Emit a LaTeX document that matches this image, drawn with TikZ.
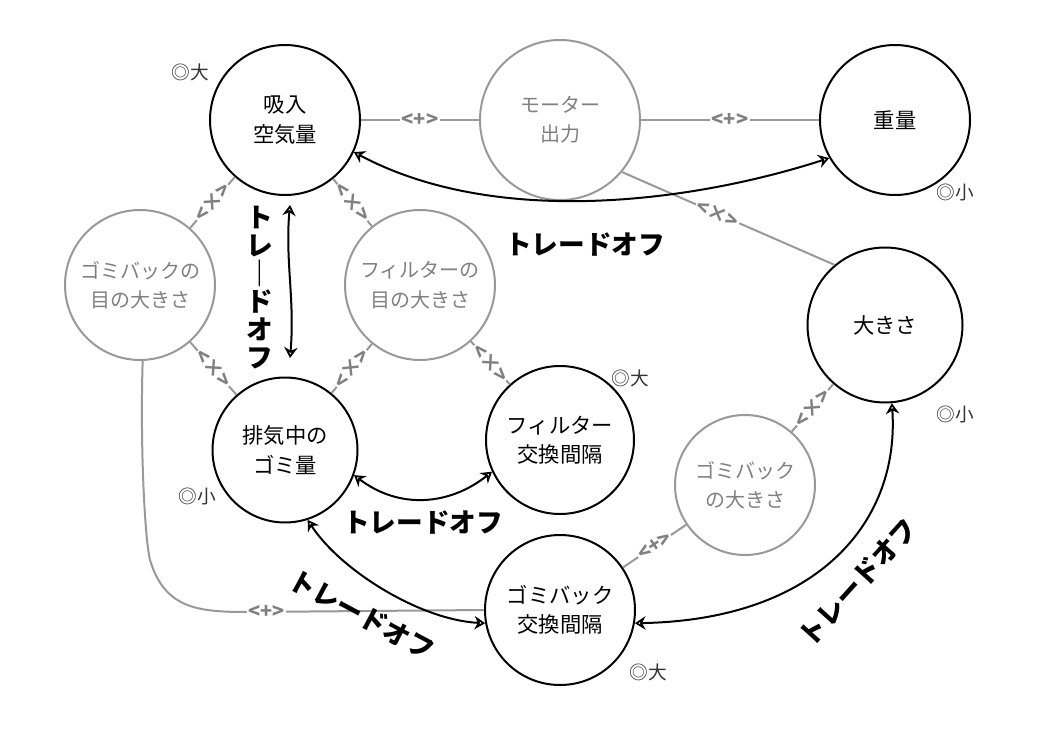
\documentclass[tikz,border=0pt]{standalone}
\usepackage{fontspec}
\setmainfont{Noto Sans CJK JP}
\usetikzlibrary{arrows.meta}
\begin{document}
\begin{tikzpicture}[x=0.75pt,y=-0.75pt,
  blk/.style={circle,draw=black,line width=1.5pt,minimum size=#1*0.75pt,align=center,font=\fontsize{16}{22}\selectfont,inner sep=0pt},
  gry/.style={circle,draw=gray!80,text=gray,line width=1.5pt,minimum size=#1*0.75pt,align=center,font=\fontsize{15}{22}\selectfont,inner sep=0pt},
  gline/.style={draw=gray!80,line width=1.5pt},
  mk/.style={sloped,fill=white,text=gray,inner sep=1pt,font=\fontsize{15}{15}\selectfont\bfseries},
  tr/.style={draw=black,line width=1.5pt,{Stealth[open,length=8pt,width=10pt]}-{Stealth[open,length=8pt,width=10pt]}},
  tl/.style={font=\fontsize{20}{22}\selectfont\bfseries},
  note/.style={font=\fontsize{14}{14}\selectfont,text=black!80}]
\useasboundingbox (0,0) rectangle (1040,732);
\node[blk=150] (ki) at (285,120) {吸入\\空気量};
\node[gry=160] (mo) at (560,120) {モーター\\出力};
\node[blk=150] (ju) at (895,120) {重量};
\node[gry=150] (gm) at (140,285) {ゴミバックの\\目の大きさ};
\node[gry=150] (fm) at (420,285) {フィルターの\\目の大きさ};
\node[blk=155] (ok) at (885,325) {大きさ};
\node[blk=145] (hk) at (285,450) {排気中の\\ゴミ量};
\node[blk=148] (fk) at (560,440) {フィルター\\交換間隔};
\node[gry=140] (go) at (745,485) {ゴミバック\\の大きさ};
\node[blk=150] (gk) at (560,610) {ゴミバック\\交換間隔};
\node[note] (n1) at (190,72) {◎大};
\node[note] (n2) at (955,193) {◎小};
\node[note] (n3) at (630,378) {◎大};
\node[note] (n4) at (955,415) {◎小};
\node[note] (n5) at (197,497) {◎小};
\node[note] (n6) at (648,672) {◎大};
\path[gline] (ki) -- node[mk]{<+>} (mo);
\path[gline] (mo) -- node[mk]{<+>} (ju);
\path[gline] (mo.-40) -- node[mk,pos=0.45]{<×>} (ok.130);
\path[gline] (gm) -- node[mk]{<×>} (ki);
\path[gline] (fm) -- node[mk]{<×>} (ki);
\path[gline] (gm) -- node[mk]{<×>} (hk);
\path[gline] (fm) -- node[mk]{<×>} (hk);
\path[gline] (fm) -- node[mk]{<×>} (fk);
\path[gline] (ok) -- node[mk]{<×>} (go);
\path[gline] (go) -- node[mk]{<+>} (gk);
\coordinate (c1) at (150,560);
\path[gline] (gm.-88) .. controls (140,450) and (145,540) .. (c1) .. controls (165,610) and (200,612) .. (250,612) -- node[mk,pos=0.07]{<+>} (gk.180);
\draw[tr] (ki.-25) .. controls (500,230) and (700,200) .. (ju.-150);
\node[tl] (t1) at (585,245) {トレードオフ};
\draw[tr] (290,205) .. controls (285,260) and (295,300) .. (290,358);
\node[tl,align=center,font=\fontsize{20}{21}\selectfont\bfseries] (t2) at (260,288) {ト\\レ\\｜\\ド\\オ\\フ};
\draw[tr] (hk.-20) .. controls (400,510) and (450,505) .. (fk.-155);
\node[tl] (t3) at (423,523) {トレードオフ};
\draw[tr] (hk.-72) .. controls (340,570) and (420,620) .. (gk.-170);
\node[tl,rotate=-28] (t4) at (362,615) {トレードオフ};
\draw[tr] (ok.-85) .. controls (900,520) and (820,620) .. (gk.-10);
\node[tl,rotate=48] (t5) at (858,582) {トレードオフ};
\end{tikzpicture}
\end{document}
